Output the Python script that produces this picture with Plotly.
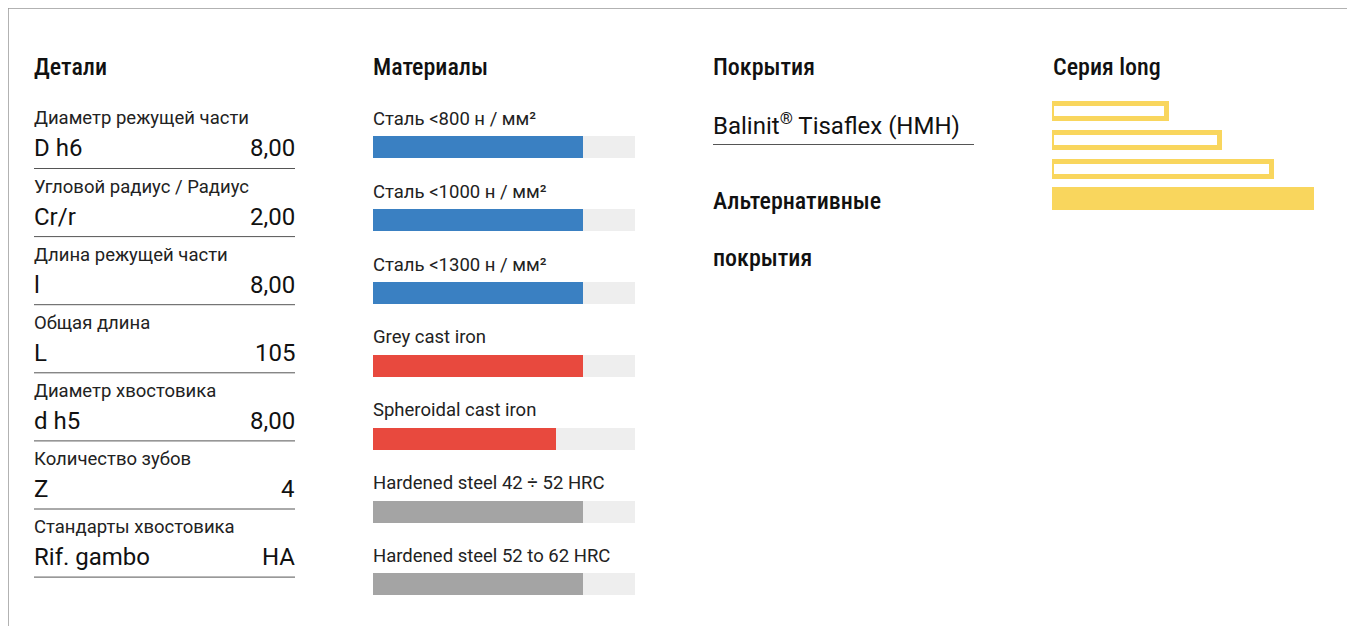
import plotly.graph_objects as go

# ---------------- data ----------------
detail_labels = ["Диаметр режущей части", "Угловой радиус / Радиус", "Длина режущей части",
                 "Общая длина", "Диаметр хвостовика", "Количество зубов", "Стандарты хвостовика"]
detail_symbols = ["D h6", "Cr/r", "l", "L", "d h5", "Z", "Rif. gambo"]
detail_values = ["8,00", "2,00", "8,00", "105", "8,00", "4", "HA"]

material_names = ["Сталь <800 н / мм²", "Сталь <1000 н / мм²", "Сталь <1300 н / мм²",
                  "Grey cast iron", "Spheroidal cast iron",
                  "Hardened steel 42 ÷ 52 HRC", "Hardened steel 52 to 62 HRC"]
material_ratings = [80, 80, 80, 80, 70, 80, 80]
material_groups = ["steel", "steel", "steel", "cast", "cast", "hard", "hard"]
rating_max = 100

section_titles = ["Детали", "Материалы", "Покрытия", "Серия long"]
coating_main = "Balinit<sup>®</sup> Tisaflex (HMH)"
coating_alt_title = ["Альтернативные", "покрытия"]

series_steps = [0, 1, 2, 3]
series_lengths = [44, 64, 84, 100]
series_active = [False, False, False, True]

# ---------------- styles ----------------
W, H = 1339, 618
OFF = 8  # page body margin


def X(sx):
    return (sx - OFF) / W


def Y(sy):
    return 1 - (sy - OFF) / H


group_colors = {"steel": "#3a80c2", "cast": "#e8493e", "hard": "#a4a4a4"}
TRACK = "#eeeeee"
YELLOW = "#f9d65d"
HEAD_FONT = "Roboto Condensed, Liberation Sans Narrow, DejaVu Sans Condensed, sans-serif"
BODY_FONT = "Roboto, Noto Sans, sans-serif"
HEAD = dict(family=HEAD_FONT, size=24, color="#111111", weight=500)
LABEL = dict(family=BODY_FONT, size=18.5, color="#222222")
VALUE = dict(family=BODY_FONT, size=24, color="#111111")


def ann(text, sx, sy, font, anchor="left", **kw):
    d = dict(text=text, x=X(sx), y=Y(sy), xref="paper", yref="paper",
             xanchor=anchor, yanchor="middle", showarrow=False, font=font,
             borderpad=0, xshift=-1 if anchor == "left" else 1)
    d.update(kw)
    return d


fig = go.Figure()

# materials bars
idx = list(range(len(material_names)))
fig.add_trace(go.Bar(x=[rating_max] * len(idx), y=idx, orientation="h",
                     marker=dict(color=TRACK, line=dict(width=0)), width=0.302,
                     xaxis="x", yaxis="y", hoverinfo="skip", showlegend=False))
fig.add_trace(go.Bar(x=material_ratings, y=idx, orientation="h",
                     marker=dict(color=[group_colors[g] for g in material_groups], line=dict(width=0)),
                     width=0.302, xaxis="x", yaxis="y", showlegend=False,
                     customdata=material_names, hovertemplate="%{customdata}: %{x}<extra></extra>"))

# series bars
outl_y = [s for s, a in zip(series_steps, series_active) if not a]
outl_x = [l for l, a in zip(series_lengths, series_active) if not a]
fill_y = [s for s, a in zip(series_steps, series_active) if a]
fill_x = [l for l, a in zip(series_lengths, series_active) if a]
fig.add_trace(go.Bar(x=outl_x, y=outl_y, orientation="h", width=0.55,
                     marker=dict(color="white", line=dict(color=YELLOW, width=5)),
                     xaxis="x2", yaxis="y2", showlegend=False, hoverinfo="skip"))
fig.add_trace(go.Bar(x=fill_x, y=fill_y, orientation="h", width=0.76,
                     marker=dict(color=YELLOW, line=dict(width=0)),
                     xaxis="x2", yaxis="y2", showlegend=False, hoverinfo="skip"))

annotations = []
shapes = []

# section titles
for t, sx in zip(section_titles, [34, 373, 713, 1053]):
    annotations.append(ann(t, sx, 67, HEAD))

# details table
for i, (lab, sym, val) in enumerate(zip(detail_labels, detail_symbols, detail_values)):
    ly = 168.5 + 68.1 * i
    annotations.append(ann(lab, 34, ly - 50, LABEL))
    annotations.append(ann(sym, 34, ly - 20, VALUE))
    annotations.append(ann(val, 295, ly - 20, VALUE, anchor="right"))
    shapes.append(dict(type="line", xref="paper", yref="paper", x0=X(34), x1=X(295),
                       y0=Y(ly), y1=Y(ly), line=dict(color="#555555", width=1)))

# material labels (in bar axis coordinates)
for i, name in enumerate(material_names):
    annotations.append(dict(text=name, x=0, y=i - 0.385, xref="x", yref="y",
                            xanchor="left", yanchor="middle", showarrow=False,
                            borderpad=0, xshift=-1, font=LABEL))

# coatings
annotations.append(ann(coating_main, 713, 124, VALUE))
shapes.append(dict(type="line", xref="paper", yref="paper", x0=X(713), x1=X(974),
                   y0=Y(144.5), y1=Y(144.5), line=dict(color="#555555", width=1)))
for t, sy in zip(coating_alt_title, [201, 258]):
    annotations.append(ann(t, 713, sy, HEAD))

# page border (top and left)
shapes.append(dict(type="line", xref="paper", yref="paper", x0=0, x1=1, y0=1, y1=1,
                   line=dict(color="#999999", width=1.5)))
shapes.append(dict(type="line", xref="paper", yref="paper", x0=0, x1=0, y0=0, y1=1,
                   line=dict(color="#999999", width=1.5)))

n = len(material_names)
fig.update_layout(
    width=W, height=H, autosize=False,
    margin=dict(l=0, r=0, t=0, b=0, pad=0),
    paper_bgcolor="white", plot_bgcolor="rgba(0,0,0,0)",
    barmode="overlay", bargap=0,
    showlegend=False,
    xaxis=dict(domain=[X(373), X(635)], range=[0, rating_max], visible=False, fixedrange=True),
    yaxis=dict(domain=[Y(147 + 72.83 * (n - 0.5)), Y(147 - 72.83 * 0.5)],
               range=[n - 0.5, -0.5], visible=False, fixedrange=True),
    xaxis2=dict(domain=[X(1052), X(1314)], range=[0, max(series_lengths)], visible=False,
                fixedrange=True, anchor="y2"),
    yaxis2=dict(domain=[Y(111.5 + 29 * 3.5), Y(111.5 - 29 * 0.5)], range=[3.5, -0.5],
                visible=False, fixedrange=True, anchor="x2"),
    annotations=annotations, shapes=shapes,
)

fig.write_html("out.html", config={"displayModeBar": False})
